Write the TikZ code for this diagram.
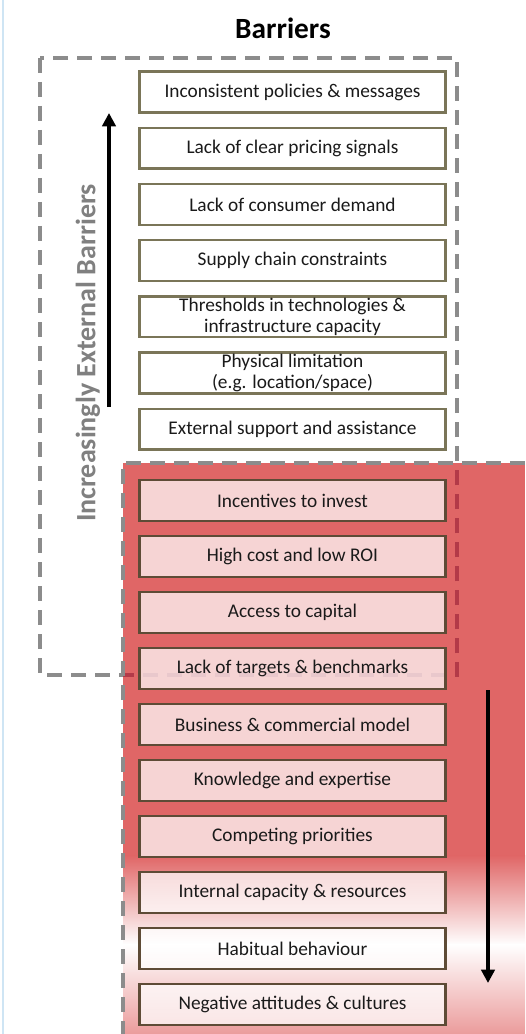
\documentclass[tikz,border=0pt]{standalone}
\usepackage{fontspec}
\setmainfont{Carlito}
\usetikzlibrary{arrows.meta,positioning}
\definecolor{cRed}{HTML}{E06666}
\definecolor{cRedDash}{HTML}{B33A48}
\definecolor{cDash}{HTML}{8C8C8C}
\definecolor{cEdge}{HTML}{7A7558}
\definecolor{cEdgeR}{HTML}{5E4B36}
\definecolor{cInk}{HTML}{1A1A1A}
\definecolor{cLabel}{HTML}{808080}
\definecolor{cRule}{HTML}{CFE5F4}

\begin{document}
\begin{tikzpicture}[
  x=0.75pt,y=-0.75pt,
  bar/.style={draw=cEdge,line width=1.8pt,fill=white,minimum width=229.5pt,
    minimum height=30.5pt,inner sep=0.5pt,align=center,text=cInk,
    font=\fontsize{14.5}{15.5}\selectfont},
  barR/.style={bar,draw=cEdgeR,fill opacity=0.72,text opacity=1},
  gdash/.style={line width=2.6pt,dash pattern=on 11pt off 7pt},
  ar/.style={-{Triangle[length=10pt,width=10pt]},line width=2.6pt,color=black},
]
\useasboundingbox (0,0) rectangle (525,1034);

% ============================================================ red zone
\fill[cRed] (123,463) rectangle (525,856);
\shade[top color=cRed,bottom color=white] (123,855.5) rectangle (525,945);
\shade[top color=white,bottom color=cRed!65] (123,944.5) rectangle (525,1034);

% ============================================================ dashed frames
\draw[gdash,color=cDash] (40,58) rectangle (457,675);
\begin{scope}
  % the outer frame seen through the red zone
  \clip (123,463) rectangle (525,1034);
  \draw[gdash,color=cRedDash] (40,58) rectangle (457,675);
\end{scope}
\draw[gdash,color=cDash] (525,463) -- (123,463) -- (123,1034);

% left page rule
\draw[cRule,line width=1.2pt] (3,0) -- (3,1034);

% ============================================================ barriers
\foreach \t [count=\i from 0] in {
    Inconsistent policies \& messages,
    Lack of clear pricing signals,
    Lack of consumer demand,
    Supply chain constraints,
    {Thresholds in technologies \&\\infrastructure capacity},
    {Physical limitation\\(e.g. location/space)},
    External support and assistance}
  \node[bar] (e\i) at (292.5,{92+56.2*\i}) {\t};

\foreach \t [count=\i from 0] in {
    Incentives to invest,
    High cost and low ROI,
    Access to capital,
    Lack of targets \& benchmarks,
    Business \& commercial model,
    Knowledge and expertise,
    Competing priorities,
    Internal capacity \& resources,
    Habitual behaviour,
    Negative attitudes \& cultures}
  \node[barR] (i\i) at (292.5,{500.5+56*\i}) {\t};

% ============================================================ arrows + labels
\coordinate (upS) at (109,407);
\coordinate (upE) at (109,113);
\draw[ar] (upS) -- (upE);
\coordinate (dnS) at (488,690);
\coordinate (dnE) at (488,983);
\draw[ar] (dnS) -- (dnE);

\node[rotate=90,text=cLabel,font=\bfseries\fontsize{21}{21}\selectfont]
  (side) at (88,353) {Increasingly External Barriers};
\node[text=black,font=\bfseries\fontsize{22}{22}\selectfont]
  (title) at (283,28) {Barriers};

\end{tikzpicture}
\end{document}
